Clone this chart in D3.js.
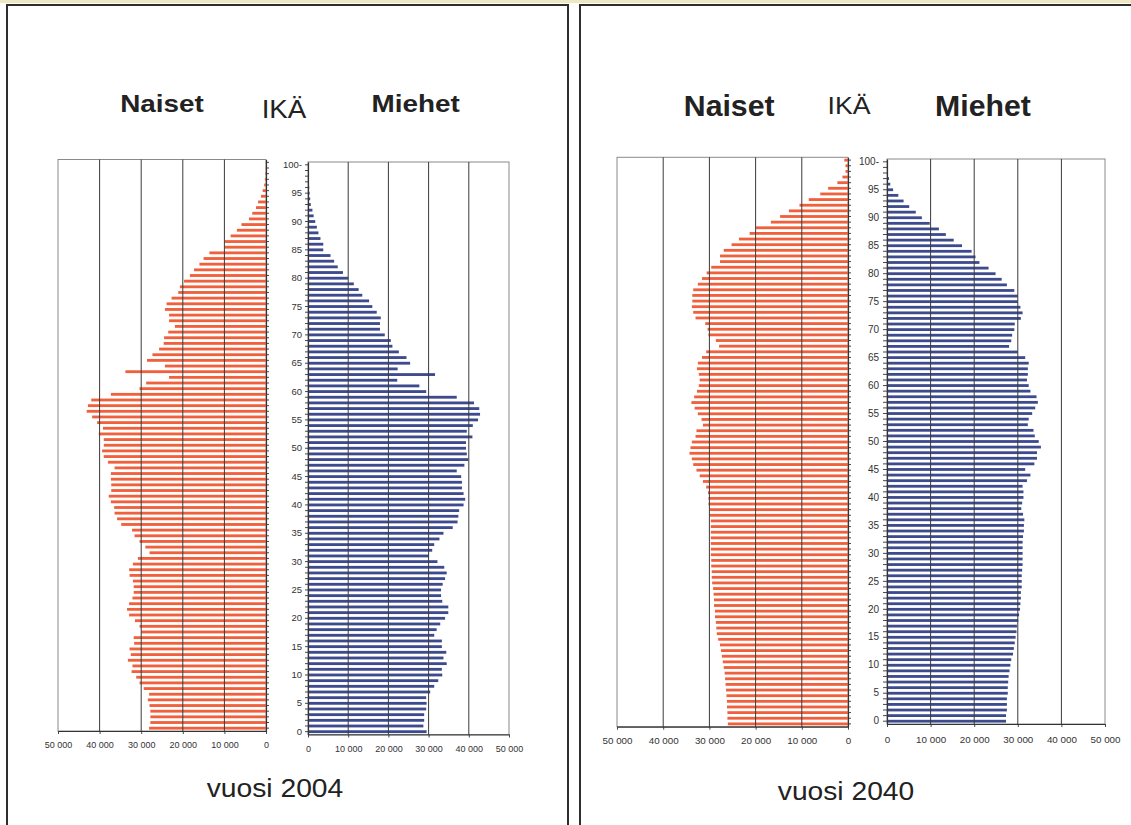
<!DOCTYPE html>
<html>
<head>
<meta charset="utf-8">
<script src="https://cdn.jsdelivr.net/npm/d3@7"></script>
<style>
  html, body { margin: 0; padding: 0; background: #ffffff; }
  svg { display: block; }
  text { font-family: "Liberation Sans", Arial, Helvetica, sans-serif; }
</style>
</head>
<body>
<svg id="chart" width="1131" height="825"></svg>
<script>
// ---------------- DATA ----------------
const ages = d3.range(0, 101); // age categories 0..100
const valueTicks = [0, 10000, 20000, 30000, 40000, 50000];
const valueTickLabels = ["0", "10 000", "20 000", "30 000", "40 000", "50 000"];
const gridValues = [10000, 20000, 30000, 40000];
const ageTickValues = [0, 5, 10, 15, 20, 25, 30, 35, 40, 45, 50, 55, 60, 65, 70, 75, 80, 85, 90, 95, 100];
const ageTickLabels = ["0", "5", "10", "15", "20", "25", "30", "35", "40", "45", "50", "55", "60", "65", "70", "75", "80", "85", "90", "95", "100-"];
const headerTexts = ["Naiset", "IKÄ", "Miehet"];
const yearTexts = ["vuosi 2004", "vuosi 2040"];

// women, year 2004, ages 0..100
const women2004 = [
  28100, 27800, 27800, 27800, 28000, 28400, 28100, 29400, 30400, 31200,
  32300, 32100, 33200, 32500, 32800, 31700, 31800, 30000, 30400, 31500,
  32900, 33400, 32900, 32100, 31800, 31800, 32000, 32800, 32900, 32000,
  30800, 28000, 29000, 30400, 31600, 32200, 34800, 35800, 36400, 36500,
  37300, 37800, 37200, 37200, 37300, 37300, 36400, 38000, 39000, 39400,
  39000, 39000, 40200, 39200, 40600, 41800, 43100, 42800, 42000, 37300,
  30400, 28800, 23300, 33800, 24300, 28600, 27300, 25700, 24600, 24500,
  23500, 21900, 23300, 23300, 24300, 23900, 22700, 21100, 20700, 19700,
  18300, 17300, 16000, 15000, 13600, 9900, 9900, 8500, 7000, 5900,
  4100, 3300, 2400, 1900, 1200, 800, 440, 260, 170, 90,
  60
];
// men, year 2004, ages 0..100
const men2004 = [
  29500, 28700, 28900, 28900, 29400, 29500, 29400, 30400, 31400, 32400,
  33400, 33300, 34500, 33700, 34400, 33300, 33300, 31400, 32000, 32900,
  34100, 34900, 34900, 33400, 33100, 33100, 33500, 34100, 34500, 33900,
  32200, 30100, 30900, 31400, 32700, 33700, 36000, 37200, 37400, 37600,
  38700, 39100, 38700, 38300, 38300, 38100, 37000, 38900, 39900, 39500,
  39300, 39300, 40900, 39500, 41000, 42300, 42800, 42600, 41300, 37000,
  29400, 27700, 22200, 31600, 22300, 25400, 24500, 22600, 21000, 20600,
  19100, 17900, 17900, 18100, 17100, 16000, 15200, 13500, 12600, 11400,
  10000, 8700, 7400, 6500, 5600, 3800, 3800, 3100, 2600, 2200,
  1800, 1400, 1100, 700, 550, 400, 300, 200, 100, 80,
  50
];
// women, year 2040, ages 0..100
const women2040 = [
  26000, 26100, 26100, 26200, 26200, 26300, 26400, 26500, 26600, 26700,
  26900, 27100, 27300, 27500, 27700, 28100, 28400, 28500, 28600, 28800,
  28800, 29000, 29000, 29100, 29200, 29400, 29500, 29500, 29600, 29600,
  29700, 29700, 29700, 29700, 29700, 29700, 29700, 29900, 29900, 30200,
  30200, 30300, 30700, 31400, 32100, 32800, 33500, 33800, 34300, 34100,
  33800, 33000, 32800, 31400, 31700, 32500, 33200, 33900, 33300, 32700,
  32300, 32100, 32300, 32700, 32500, 31600, 30700, 27900, 28600, 30200,
  30400, 30900, 33000, 33500, 33800, 33700, 33700, 33500, 32500, 31600,
  30600, 29600, 27700, 27700, 26900, 25200, 23600, 21300, 19900, 16700,
  14700, 12800, 10500, 8500, 6000, 4300, 2300, 1200, 540, 540,
  800
];
// men, year 2040, ages 0..100
const men2040 = [
  27300, 27300, 27500, 27500, 27500, 27700, 27700, 27800, 27900, 28100,
  28300, 28500, 28900, 29100, 29300, 29500, 29700, 29800, 30100, 30300,
  30500, 30600, 30700, 30700, 30900, 30900, 30900, 31000, 31100, 31100,
  31100, 31100, 31100, 31200, 31400, 31400, 31500, 31200, 30800, 31000,
  31300, 31300, 31100, 32100, 32900, 31700, 33800, 34400, 34400, 35300,
  34800, 33900, 33600, 32300, 32500, 33300, 34000, 34600, 34300, 32900,
  32500, 32100, 32300, 32300, 32500, 31700, 30000, 28000, 28500, 28700,
  29200, 29300, 30700, 31100, 30600, 30000, 30000, 29200, 27500, 26300,
  24900, 23300, 21200, 20300, 19400, 17200, 15300, 13500, 11900, 9800,
  8000, 6600, 5100, 3800, 2600, 1400, 750, 450, 200, 100,
  50
];

// ---------------- LAYOUT / STYLE ----------------
const WOMEN_COLOR = "#f1603c";
const MEN_COLOR = "#3d4b8e";
const GRID_COLOR = "#3a3a3a";
const FRAME_COLOR = "#8a8a8a";
const AXIS_COLOR = "#333333";
const TEXT_COLOR = "#222222";

const panels = [
  {
    border: { x0: 7, x1: 568, y0: 5 },
    women: women2004, men: men2004,
    wX: [58, 266], mX: [308, 509],
    wY: [731, 159.5], mY: [734.5, 162],
    wLabelY: 745, mLabelY: 749,
    valFont: 9, ageFont: 9.5, ageTick: 3, agePad: 3,
    titles: [
      { x: 162, y: 111.7, size: 24, w: 83.6, bold: true },
      { x: 284, y: 118.3, size: 25.5, w: 44.7, bold: false },
      { x: 415.7, y: 111.7, size: 24, w: 88.3, bold: true }
    ],
    year: { x: 275, y: 796.7, size: 26.5, w: 136.6 },
    yearIndex: 0
  },
  {
    border: { x0: 580, x1: 1140, y0: 5 },
    women: women2040, men: men2040,
    wX: [617, 848], mX: [887, 1105],
    wY: [726.7, 157.3], mY: [724, 159],
    wLabelY: 741, mLabelY: 740,
    valFont: 9.8, ageFont: 10, ageTick: 4, agePad: 4,
    titles: [
      { x: 729.2, y: 116, size: 29, w: 90.8, bold: true },
      { x: 849, y: 114.3, size: 24.7, w: 43, bold: false },
      { x: 983, y: 116, size: 30, w: 95.8, bold: true }
    ],
    year: { x: 846, y: 800, size: 25.6, w: 136.4 },
    yearIndex: 1
  }
];

const svg = d3.select("#chart");

// faint yellow scan edge at the very top
svg.append("rect").attr("x", 0).attr("y", 0).attr("width", 1131).attr("height", 3)
  .attr("fill", "#efe7bf");

function styleAxis(g) {
  g.selectAll(".domain").attr("stroke", AXIS_COLOR).attr("stroke-width", 1.2);
  g.selectAll(".tick line").attr("stroke", AXIS_COLOR).attr("stroke-width", 0.9);
  g.selectAll(".tick text").attr("fill", "#333").attr("font-family", "'Liberation Sans', Arial, sans-serif");
}

function drawPanel(p) {
  const g = svg.append("g");

  // outer panel frame
  g.append("path")
    .attr("d", `M${p.border.x0},830 V${p.border.y0} H${p.border.x1} V830`)
    .attr("fill", "none").attr("stroke", "#2e2e2e").attr("stroke-width", 2);

  // scales
  const xW = d3.scaleLinear().domain([50000, 0]).range(p.wX);
  const xM = d3.scaleLinear().domain([0, 50000]).range(p.mX);
  const yW = d3.scaleBand().domain(ages).range(p.wY).paddingInner(0.5).paddingOuter(0.25);
  const yM = d3.scaleBand().domain(ages).range(p.mY).paddingInner(0.5).paddingOuter(0.25);

  // plot frames
  g.append("rect")
    .attr("x", xW(50000)).attr("y", p.wY[1])
    .attr("width", xW(0) - xW(50000)).attr("height", p.wY[0] - p.wY[1])
    .attr("fill", "#fff").attr("stroke", FRAME_COLOR).attr("stroke-width", 1);
  g.append("rect")
    .attr("x", xM(0)).attr("y", p.mY[1])
    .attr("width", xM(50000) - xM(0)).attr("height", p.mY[0] - p.mY[1])
    .attr("fill", "#fff").attr("stroke", FRAME_COLOR).attr("stroke-width", 1);

  // bars - women
  g.append("g").selectAll("rect")
    .data(ages)
    .join("rect")
    .attr("x", a => xW(p.women[a]))
    .attr("y", a => yW(a))
    .attr("width", a => xW(0) - xW(p.women[a]))
    .attr("height", yW.bandwidth())
    .attr("fill", WOMEN_COLOR);

  // bars - men
  g.append("g").selectAll("rect")
    .data(ages)
    .join("rect")
    .attr("x", xM(0))
    .attr("y", a => yM(a))
    .attr("width", a => xM(p.men[a]) - xM(0))
    .attr("height", yM.bandwidth())
    .attr("fill", MEN_COLOR);

  // gridlines
  g.append("g").selectAll("line")
    .data(gridValues)
    .join("line")
    .attr("x1", d => xW(d)).attr("x2", d => xW(d))
    .attr("y1", p.wY[1]).attr("y2", p.wY[0])
    .attr("stroke", GRID_COLOR).attr("stroke-width", 1);
  g.append("g").selectAll("line")
    .data(gridValues)
    .join("line")
    .attr("x1", d => xM(d)).attr("x2", d => xM(d))
    .attr("y1", p.mY[1]).attr("y2", p.mY[0])
    .attr("stroke", GRID_COLOR).attr("stroke-width", 1);

  // value axes
  const padW = (p.wLabelY - p.wY[0]) - 3 - p.valFont * 0.358;
  const axW = g.append("g").attr("transform", `translate(0,${p.wY[0]})`)
    .call(d3.axisBottom(xW).tickValues(valueTicks)
      .tickFormat(d => valueTickLabels[valueTicks.indexOf(d)])
      .tickSize(3).tickSizeOuter(0).tickPadding(padW));
  axW.selectAll("text").attr("font-size", p.valFont);
  styleAxis(axW);

  const padM = (p.mLabelY - p.mY[0]) - 3 - p.valFont * 0.358;
  const axM = g.append("g").attr("transform", `translate(0,${p.mY[0]})`)
    .call(d3.axisBottom(xM).tickValues(valueTicks)
      .tickFormat(d => valueTickLabels[valueTicks.indexOf(d)])
      .tickSize(3).tickSizeOuter(0).tickPadding(padM));
  axM.selectAll("text").attr("font-size", p.valFont);
  styleAxis(axM);

  // women zero axis with per-age ticks
  const axWA = g.append("g").attr("transform", `translate(${xW(0)},0)`)
    .call(d3.axisRight(yW).tickValues(ages).tickFormat(() => "")
      .tickSize(3).tickSizeOuter(0));
  styleAxis(axWA);

  // men age axis with labels every 5
  const axMA = g.append("g").attr("transform", `translate(${xM(0)},0)`)
    .call(d3.axisLeft(yM).tickValues(ages)
      .tickFormat(a => {
        const i = ageTickValues.indexOf(a);
        return i >= 0 ? ageTickLabels[i] : "";
      })
      .tickSize(p.ageTick).tickSizeOuter(0).tickPadding(p.agePad));
  axMA.selectAll("text").attr("font-size", p.ageFont);
  styleAxis(axMA);

  // headers
  p.titles.forEach((t, i) => {
    g.append("text")
      .attr("x", t.x).attr("y", t.y)
      .attr("text-anchor", "middle")
      .attr("font-size", t.size)
      .attr("font-weight", t.bold ? "bold" : "normal")
      .attr("fill", TEXT_COLOR)
      .attr("textLength", t.w)
      .attr("lengthAdjust", "spacingAndGlyphs")
      .text(headerTexts[i]);
  });

  // year caption
  g.append("text")
    .attr("x", p.year.x).attr("y", p.year.y)
    .attr("text-anchor", "middle")
    .attr("font-size", p.year.size)
    .attr("fill", TEXT_COLOR)
    .attr("textLength", p.year.w)
    .attr("lengthAdjust", "spacingAndGlyphs")
    .text(yearTexts[p.yearIndex]);
}

panels.forEach(drawPanel);
</script>
</body>
</html>
